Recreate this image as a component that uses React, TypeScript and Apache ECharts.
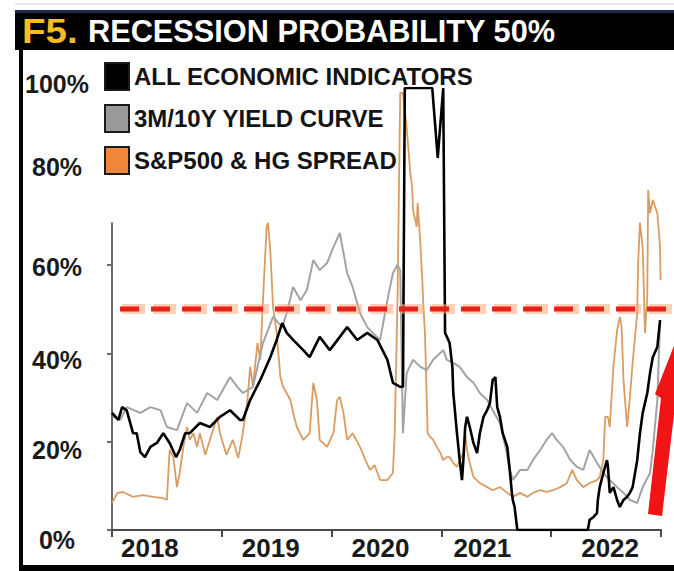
import React, { useEffect, useRef } from "react";
import * as echarts from "echarts";

const FONT = '"Liberation Sans", Arial, Helvetica, sans-serif';

const TITLE_PREFIX = "F5.";
const TITLE_TEXT = "RECESSION PROBABILITY 50%";

const SERIES_ALL = "ALL ECONOMIC INDICATORS";
const SERIES_CURVE = "3M/10Y YIELD CURVE";
const SERIES_SPREAD = "S&P500 & HG SPREAD";

const YEAR_LABELS = ["2018", "2019", "2020", "2021", "2022"];
const Y_TICKS = [0, 20, 40, 60, 80, 100];
const THRESHOLD = 50;
// months since start of 2018 (x), probability in % (y)
const MONTH_SPAN = 60;

const allEconomic: [number, number][] = [
  [0, 26.5], [0.7, 24.9], [1.1, 27.8], [1.6, 27.1], [2.3, 21.9], [2.7, 21.9], [3.1, 17.6], [3.6, 16.5],
  [4.2, 18.8], [4.9, 19.7], [5.6, 21.9], [6.3, 19.7], [7.0, 16.5], [7.4, 18.1], [8.0, 21.9], [8.5, 21.9],
  [9.6, 24.2], [10.7, 23.3], [11.8, 25.6], [12.9, 27.1], [14.0, 24.9], [14.3, 24.9], [15.1, 29.4], [16.2, 33.9],
  [17.3, 39.1], [18.0, 43.0], [18.6, 46.8], [19.1, 44.6], [19.8, 43.0], [20.9, 40.7], [21.6, 39.1], [22.7, 43.7],
  [23.8, 40.7], [24.9, 43.7], [25.7, 45.9], [26.8, 43.0], [27.9, 44.6], [29.0, 43.0], [30.1, 38.5], [30.7, 33.3],
  [31.5, 32.4], [31.8, 32.4], [32.0, 100], [35.0, 100], [35.6, 84.2], [36.2, 100], [36.4, 44.6], [36.6, 43.7],
  [36.9, 42.3], [37.2, 36.9], [37.3, 31.0], [37.7, 21.9], [38.0, 15.8], [38.25, 11.3], [38.4, 15.8], [38.6, 23.3],
  [38.8, 25.6], [39.1, 23.3], [39.5, 19.7], [39.9, 17.4], [40.2, 21.9], [40.6, 25.6], [41.0, 27.1], [41.3, 28.7],
  [41.6, 33.9], [41.9, 34.6], [42.1, 27.8], [42.4, 25.6], [42.7, 21.9], [43.2, 18.8], [43.5, 12.9], [43.7, 8.4],
  [43.8, 6.8], [44.0, 5.2], [44.3, 0], [52.0, 0], [52.2, 2.3], [52.6, 2.9], [53.0, 3.8], [53.1, 6.8],
  [53.3, 9.7], [53.7, 12.9], [54.1, 15.8], [54.2, 14.3], [54.4, 8.4], [54.8, 9.7], [55.2, 6.8], [55.5, 5.2],
  [55.9, 6.8], [56.3, 7.5], [56.6, 8.4], [56.9, 9.7], [57.4, 15.8], [57.7, 21.9], [58.0, 26.5], [58.5, 31.0],
  [58.8, 35.5], [59.1, 39.1], [59.6, 41.4], [59.9, 47.5],
];

const yieldCurve: [number, number][] = [
  [0.1, 25.6], [0.9, 24.9], [1.6, 27.8], [3.1, 26.5], [4.2, 27.8], [5.3, 27.1], [6.0, 23.3], [7.1, 22.6],
  [8.2, 28.7], [9.3, 26.5], [10.4, 31.0], [11.5, 29.4], [12.9, 34.6], [13.7, 32.4], [14.3, 31.0], [15.4, 32.4],
  [16.5, 42.3], [17.6, 48.2], [18.6, 45.9], [19.1, 49.1], [19.8, 55.0], [20.6, 52.0], [21.3, 54.3], [22.0, 61.1],
  [22.7, 58.8], [23.5, 60.4], [24.2, 64.0], [24.9, 67.2], [25.7, 58.1], [26.3, 55.0], [27.1, 49.1], [27.9, 45.9],
  [28.5, 44.6], [29.3, 43.0], [30.1, 52.0], [30.7, 58.1], [31.2, 60.0], [31.5, 58.8], [31.8, 21.9], [32.2, 35.5],
  [32.9, 38.5], [33.7, 36.9], [34.4, 36.2], [35.1, 38.5], [36.2, 40.7], [36.6, 38.5], [37.3, 37.8], [38.0, 36.9],
  [38.8, 34.6], [39.5, 33.3], [40.2, 31.0], [41.0, 29.4], [41.6, 27.1], [42.4, 24.2], [43.0, 18.8], [43.5, 13.6],
  [43.8, 11.3], [44.6, 13.6], [45.4, 13.6], [46.0, 15.8], [46.8, 18.1], [47.5, 20.4], [48.1, 21.9], [48.6, 20.4],
  [49.3, 18.8], [50.1, 15.8], [50.8, 14.3], [51.5, 13.6], [52.2, 18.1], [53.0, 15.2], [53.7, 12.9], [54.4, 11.3],
  [55.2, 9.7], [55.9, 8.4], [56.6, 6.8], [57.4, 6.1], [58.0, 9.7], [58.8, 12.9], [59.1, 18.1], [59.6, 29.4],
  [59.9, 47.5],
];

const spreadModel: [number, number][] = [
  [0, 6.1], [0.6, 8.4], [1.2, 8.6], [2.3, 7.5], [3.4, 7.9], [4.5, 7.5], [5.6, 7.2], [6.0, 6.8],
  [6.3, 18.1], [6.7, 16.5], [7.1, 9.7], [7.4, 12.9], [7.8, 18.8], [8.2, 23.3], [8.5, 20.4], [8.9, 21.9],
  [9.3, 18.8], [9.6, 21.9], [10.2, 17.0], [10.7, 20.4], [11.5, 25.6], [11.8, 21.9], [12.5, 17.0], [13.2, 20.4],
  [13.8, 16.3], [14.3, 21.9], [14.8, 29.4], [15.1, 36.9], [15.4, 32.4], [15.9, 42.3], [16.2, 38.5], [16.5, 52.0],
  [16.9, 68.6], [17.05, 69.5], [17.3, 63.3], [17.6, 50.5], [18.0, 44.6], [18.4, 34.6], [18.7, 32.4], [19.5, 29.4],
  [19.8, 26.5], [20.2, 23.3], [20.9, 20.4], [21.6, 21.9], [22.0, 33.3], [22.4, 29.4], [22.7, 20.4], [23.5, 18.8],
  [24.2, 21.9], [24.6, 29.4], [24.9, 30.1], [25.3, 26.5], [25.7, 20.4], [26.3, 21.9], [27.1, 18.8], [27.7, 15.8],
  [28.2, 13.6], [28.7, 14.7], [29.3, 11.3], [30.1, 11.3], [30.7, 12.9], [30.9, 21.9], [31.2, 52.0], [31.5, 98.9],
  [31.8, 98.9], [32.2, 91.2], [32.6, 80.8], [32.8, 77.6], [32.9, 72.4], [33.3, 68.6], [33.4, 74.0], [33.7, 64.9],
  [33.9, 57.2], [34.0, 52.0], [34.2, 44.6], [34.4, 29.4], [34.5, 21.9], [34.8, 21.0], [35.1, 20.4], [35.5, 18.8],
  [35.9, 17.4], [36.2, 15.8], [36.6, 16.5], [36.9, 16.5], [37.3, 15.2], [37.7, 14.3], [38.0, 15.8], [38.4, 17.4],
  [38.6, 22.0], [38.8, 18.1], [39.1, 15.2], [39.5, 12.0], [40.2, 10.6], [41.0, 9.7], [41.6, 9.0], [42.4, 9.7],
  [43.2, 8.4], [43.8, 7.5], [44.6, 8.4], [45.4, 7.5], [46.0, 8.4], [46.8, 9.0], [47.5, 8.6], [48.2, 9.0],
  [49.0, 9.7], [49.7, 10.6], [50.3, 13.6], [50.8, 11.3], [51.5, 9.7], [52.2, 10.6], [53.0, 11.3], [53.3, 12.0],
  [53.7, 15.8], [53.9, 25.6], [54.2, 25.6], [54.4, 23.3], [54.8, 36.9], [55.2, 45.2], [55.5, 48.2], [55.7, 45.9],
  [55.9, 33.9], [56.3, 23.3], [56.6, 30.1], [56.9, 37.8], [57.4, 49.1], [57.5, 60.4], [57.7, 69.5], [58.0, 64.0],
  [58.25, 44.6], [58.5, 52.7], [58.6, 76.9], [58.8, 71.7], [59.1, 74.7], [59.6, 71.7], [59.9, 64.0], [59.95, 56.5],
];

const thresholdLine: [number, number][] = [
  [0, THRESHOLD],
  [MONTH_SPAN, THRESHOLD],
];

export default function App() {
  const ref = useRef<HTMLDivElement>(null);

  useEffect(() => {
    if (!ref.current) return;
    const chart = echarts.init(ref.current, undefined, { renderer: "svg" });

    const yRich: Record<string, any> = {};
    const yPad: Record<number, number[]> = {
      100: [0, 0, 8, 0],
      80: [0, 0, 18, 0],
      60: [4, 0, 0, 0],
      40: [14, 0, 0, 0],
      20: [16, 0, 0, 0],
      0: [20, 0, 0, 0],
    };
    Y_TICKS.forEach((t) => {
      yRich["r" + t] = {
        fontSize: 25,
        fontWeight: "bold",
        fontFamily: FONT,
        color: "#1a1a1a",
        padding: yPad[t],
      };
    });
    const xPad: Record<string, number[]> = {
      "2018": [0, 34, 0, 0],
      "2019": [0, 12, 0, 0],
      "2020": [0, 12, 0, 0],
      "2021": [0, 28, 0, 0],
      "2022": [0, 0, 0, 8],
    };
    const xRich: Record<string, any> = {};
    YEAR_LABELS.forEach((y) => {
      xRich["y" + y] = {
        fontSize: 26,
        fontWeight: "bold",
        fontFamily: FONT,
        color: "#1a1a1a",
        padding: xPad[y],
      };
    });

    const axisColor = "#4a4a4a";

    chart.setOption({
      animation: false,
      backgroundColor: "#ffffff",
      grid: [
        { left: 112, right: 13, top: 88, bottom: 41 },
        { left: 112, right: 13, top: 223, bottom: 41 },
        { left: 120, right: 0, top: 88, bottom: 41 },
      ],
      xAxis: [
        {
          gridIndex: 0,
          type: "category",
          data: YEAR_LABELS,
          boundaryGap: true,
          axisLine: { lineStyle: { color: axisColor, width: 2 } },
          axisTick: { show: true, alignWithLabel: false, length: 7, lineStyle: { color: axisColor, width: 2 } },
          axisLabel: {
            interval: 0,
            margin: 5,
            formatter: (v: string) => `{y${v}|${v}}`,
            rich: xRich,
          },
          splitLine: { show: false },
        },
        { gridIndex: 0, type: "value", min: 0, max: MONTH_SPAN, show: false },
        { gridIndex: 1, type: "value", min: 0, max: MONTH_SPAN, show: false },
        { gridIndex: 2, type: "value", min: 0, max: MONTH_SPAN, show: false },
      ],
      yAxis: [
        {
          gridIndex: 0,
          type: "value",
          min: 0,
          max: 100,
          interval: 20,
          axisLine: { show: false },
          axisTick: { show: false },
          splitLine: { show: false },
          axisLabel: {
            margin: 55,
            align: "center",
            formatter: (v: number) => `{r${v}|${v}%}`,
            rich: yRich,
          },
        },
        {
          gridIndex: 1,
          type: "value",
          min: 0,
          max: 69.5,
          axisLine: { show: true, lineStyle: { color: "#6a6a6a", width: 2 } },
          axisTick: { show: true, length: 5, customValues: [0, 20, 40, 60], lineStyle: { color: "#6a6a6a", width: 2 } },
          axisLabel: { show: false },
          splitLine: { show: false },
        },
        { gridIndex: 2, type: "value", min: 0, max: 100, show: false },
      ],
      legend: {
        orient: "vertical",
        left: 104,
        top: 62,
        padding: 0,
        itemWidth: 24,
        itemHeight: 27,
        itemGap: 13,
        icon: "rect",
        selectedMode: false,
        itemStyle: { borderColor: "#1a1a1a", borderWidth: 2 },
        textStyle: { fontSize: 24, fontWeight: "bold", color: "#141414", fontFamily: FONT },
        data: [
          { name: SERIES_ALL, itemStyle: { color: "#000000" } },
          { name: SERIES_CURVE, itemStyle: { color: "#9a9a9a" } },
          { name: SERIES_SPREAD, itemStyle: { color: "#f0863a" } },
        ],
      },
      series: [
        {
          name: SERIES_SPREAD,
          type: "line",
          xAxisIndex: 1,
          yAxisIndex: 0,
          data: spreadModel,
          symbol: "none",
          showSymbol: false,
          lineStyle: { color: "#d99c63", width: 1.8 },
          itemStyle: { color: "#d99c63" },
          z: 2,
        },
        {
          name: SERIES_CURVE,
          type: "line",
          xAxisIndex: 1,
          yAxisIndex: 0,
          data: yieldCurve,
          symbol: "none",
          showSymbol: false,
          lineStyle: { color: "#a3a3a3", width: 2 },
          itemStyle: { color: "#a3a3a3" },
          z: 3,
        },
        {
          name: SERIES_ALL,
          type: "line",
          xAxisIndex: 1,
          yAxisIndex: 0,
          data: allEconomic,
          symbol: "none",
          showSymbol: false,
          lineStyle: { color: "#000000", width: 2.6 },
          itemStyle: { color: "#000000" },
          z: 4,
        },
        {
          name: "thresholdGlow",
          type: "line",
          xAxisIndex: 3,
          yAxisIndex: 2,
          data: thresholdLine,
          symbol: "none",
          showSymbol: false,
          silent: true,
          lineStyle: {
            color: "rgba(255,170,120,0.55)",
            width: 10,
            type: [23, 8],
            dashOffset: -2,
          },
          z: 5,
        },
        {
          name: "threshold",
          type: "line",
          xAxisIndex: 3,
          yAxisIndex: 2,
          data: thresholdLine,
          symbol: "none",
          showSymbol: false,
          silent: true,
          lineStyle: {
            color: "#e8201a",
            width: 5,
            type: [19, 12],
          },
          z: 6,
        },
      ],
      graphic: [
        { type: "line", shape: { x1: 15, y1: 4, x2: 674, y2: 4 }, style: { stroke: "#d0d0d0", lineWidth: 1 } },
        { type: "rect", shape: { x: 15, y: 10, width: 659, height: 40 }, style: { fill: "#000000" } },
        { type: "rect", shape: { x: 15, y: 10, width: 659, height: 3 }, style: { fill: "#1d2b4a" } },
        { type: "rect", shape: { x: 19, y: 50, width: 4, height: 521 }, style: { fill: "#000000" } },
        { type: "rect", shape: { x: 19, y: 565, width: 655, height: 6 }, style: { fill: "#000000" } },
        {
          type: "text",
          x: 22,
          y: 31,
          scaleX: 1.1,
          style: {
            text: TITLE_PREFIX,
            fill: "#f5bd1f",
            font: `bold 35px ${FONT}`,
            verticalAlign: "middle",
            align: "left",
          },
        },
        {
          type: "text",
          x: 88,
          y: 31,
          scaleX: 0.96,
          style: {
            text: TITLE_TEXT,
            fill: "#ffffff",
            font: `bold 32px ${FONT}`,
            verticalAlign: "middle",
            align: "left",
          },
        },
        {
          type: "polygon",
          shape: {
            points: [
              [648, 514],
              [661, 398],
              [655, 394],
              [677, 338],
              [692, 410],
              [675, 406],
              [662, 516],
            ],
          },
          style: { fill: "#f01414" },
          z: 10,
        },
      ],
    });

    return () => chart.dispose();
  }, []);

  return (
    <div
      ref={ref}
      style={{ position: "fixed", left: 0, top: 0, width: 674, height: 571, background: "#fff" }}
    />
  );
}
